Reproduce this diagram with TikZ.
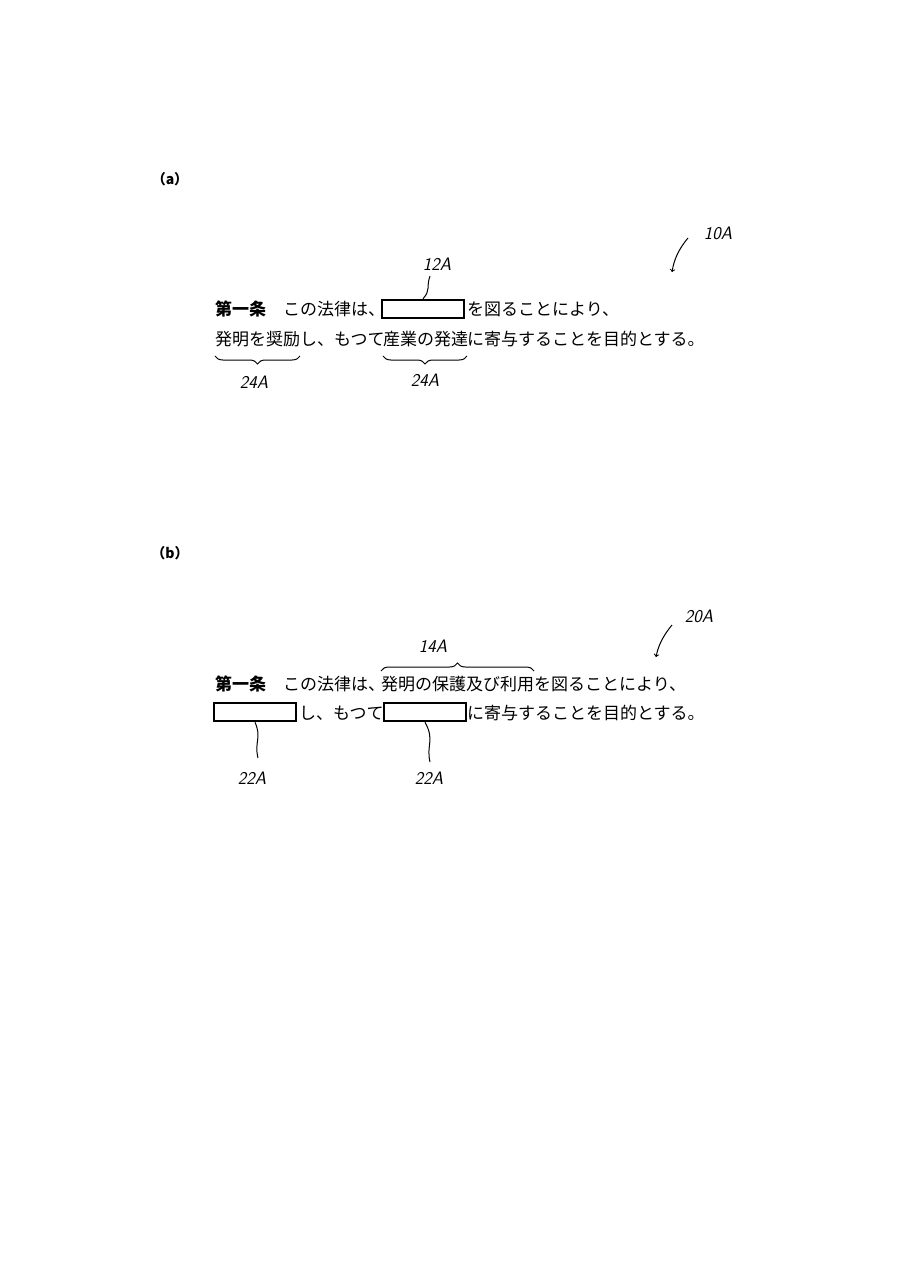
\documentclass[tikz,border=0pt]{standalone}
\usepackage{fontspec}
\newfontfamily\jp{Noto Sans CJK JP}
\usetikzlibrary{decorations.pathreplacing}
\begin{document}
\begin{tikzpicture}[x=1pt,y=-1pt,
  txt/.style={anchor=west,inner sep=0pt,font=\jp\fontsize{17}{17}\selectfont},
  bld/.style={txt,font=\jp\fontsize{17}{17}\selectfont\bfseries},
  blank/.style={draw,line width=2.6pt,minimum width=82pt,minimum height=18pt,inner sep=0pt},
  lab/.style={font=\sffamily\fontsize{18}{18}\selectfont\itshape,inner sep=1pt},
  par/.style={font=\jp\fontsize{14}{14}\selectfont\bfseries,inner sep=0pt},
  ln/.style={line width=1pt},
  brc/.style={ln,decorate,decoration={brace,amplitude=8pt}}]
\useasboundingbox (0,0) rectangle (905,1280);
% (a)
\node[par] (pa) at (170,179) {（a）};
\node[bld] (a1) at (215,309) {第一条};
\node[txt] (a2) at (283,309) {この法律は、};
\node[blank] (abox) at (423,309) {};
\node[txt] (a3) at (467,309) {を図ることにより、};
\node[txt] (a4) at (215,339) {発明を奨励};
\node[txt] (a5) at (300,339) {し、もつて};
\node[txt] (a6) at (383,339) {産業の発達};
\node[txt] (a7) at (467,339) {に寄与することを目的とする。};
\node[lab] (l12) at (437,264) {12A};
\draw[ln] (abox.north) .. controls (431,290) and (426,287) .. (430,276);
\draw[brc] (300,356) -- (215,356);
\draw[brc] (467,356) -- (383,356);
\node[lab] (l24a) at (254,382) {24A};
\node[lab] (l24b) at (425,380) {24A};
\node[lab] (l10) at (718,233) {10A};
\draw[ln,->] (688,238) .. controls (678,250) and (674,260) .. (672,272);
% (b)
\node[par] (pb) at (170,553) {（b）};
\node[bld] (b1) at (215,684) {第一条};
\node[txt] (b2) at (283,684) {この法律は、};
\node[txt] (b3) at (381,684) {発明の保護及び利用};
\node[txt] (b4) at (534,684) {を図ることにより、};
\node[blank] (bbox1) at (255,712) {};
\node[txt] (b5) at (299,713) {し、もつて};
\node[blank] (bbox2) at (425,712) {};
\node[txt] (b6) at (467,713) {に寄与することを目的とする。};
\draw[brc] (381,671) -- (534,671);
\node[lab] (l14) at (433,646) {14A};
\node[lab] (l22a) at (252,778) {22A};
\node[lab] (l22b) at (429,778) {22A};
\draw[ln] (bbox1.south) .. controls (262,738) and (254,742) .. (258,758);
\draw[ln] (bbox2.south) .. controls (435,740) and (426,745) .. (430,762);
\node[lab] (l20) at (699,616) {20A};
\draw[ln,->] (672,625) .. controls (662,637) and (658,647) .. (656,657);
\end{tikzpicture}
\end{document}
